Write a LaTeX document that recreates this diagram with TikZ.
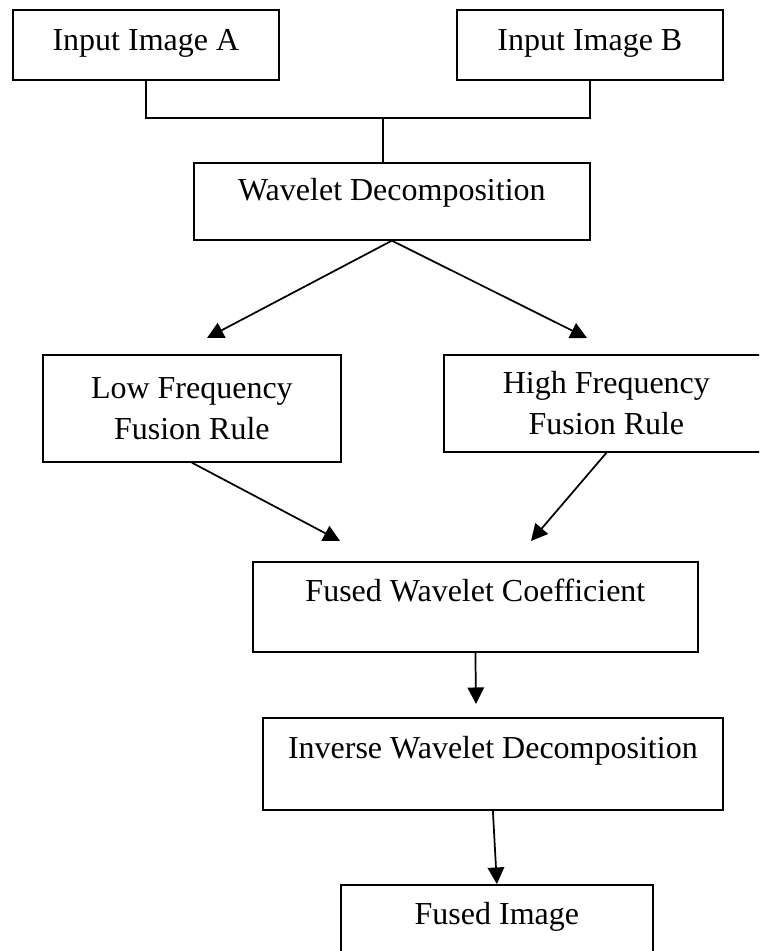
\documentclass[tikz,border=0pt]{standalone}
\usepackage{fontspec}
\setmainfont{Liberation Serif}
\usetikzlibrary{arrows.meta}

\begin{document}
\begin{tikzpicture}[
  x=0.375pt, y=-0.375pt,
  line width=0.65pt,
  box/.style={draw, inner sep=0pt, anchor=north west,
              font=\fontsize{12}{15.4}\selectfont},
  twoline/.style={box, align=center},
  >={Triangle[length=6.2pt,width=6.2pt]}]
  \useasboundingbox (0,0) rectangle (759,951);
  \clip (0,0) rectangle (759,951);
  % input images
  \node[box, minimum width=99.75pt, text height=15.4pt, text depth=10.9pt] (imga) at (12,9) {Input Image A};
  \node[box, minimum width=99.75pt, text height=15.4pt, text depth=10.9pt] (imgb) at (456,9) {Input Image B};
  % decomposition
  \node[box, minimum width=148.5pt, text height=14.25pt, text depth=14.6pt] (wdec) at (193,162) {Wavelet Decomposition};
  % fusion rules
  \node[twoline, minimum width=111.75pt, minimum height=40.1pt] (low) at (42,354) {Low Frequency\\Fusion Rule};
  \node[twoline, minimum width=121.9pt, minimum height=36.4pt] (high) at (443,354) {High Frequency\\Fusion Rule};
  % reconstruction
  \node[box, minimum width=166.9pt, text height=14.9pt, text depth=18.9pt] (fwc) at (252,561) {Fused Wavelet Coefficient};
  \node[box, minimum width=172.5pt, text height=15.25pt, text depth=19.25pt] (iwd) at (262,717) {Inverse Wavelet Decomposition};
  \node[box, minimum width=117pt, text height=15pt, text depth=22.5pt] (fimg) at (340,884) {Fused Image};

  \coordinate (join) at (383,118);
  \coordinate (lowtip) at (207,338);
  \coordinate (hightip) at (587,338);
  \coordinate (fwcl) at (340,541);
  \coordinate (fwcr) at (531,541);
  \coordinate (iwdtip) at (476,704);

  \draw (imga.south) |- (join) -| (imgb.south);
  \draw (join) -- (join |- wdec.north);
  \draw[->] (wdec.south) -- (lowtip);
  \draw[->] (wdec.south) -- (hightip);
  \draw[->] (low.south) -- (fwcl);
  \draw[->] (high.south) -- (fwcr);
  \draw[->] (fwc.south) -- (iwdtip);
  \draw[->] (iwd.south) -- (fimg.north);
\end{tikzpicture}
\end{document}
